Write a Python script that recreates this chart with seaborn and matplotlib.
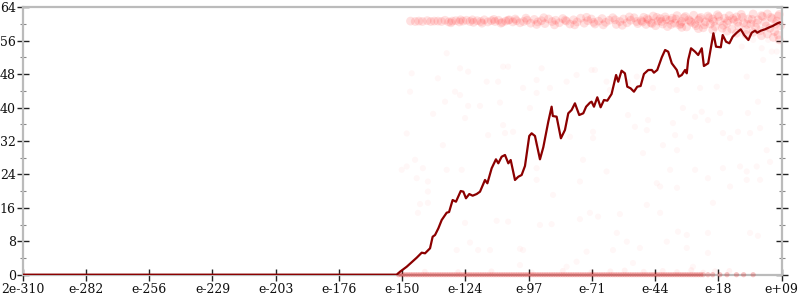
import matplotlib
matplotlib.use("Agg")
import matplotlib.pyplot as plt
import seaborn as sns
import pandas as pd
from matplotlib.ticker import MultipleLocator, FixedLocator

sns.set_style("white")
plt.rcParams['font.family'] = ['DejaVu Serif']

# ---------------- data (x = log10 exponent, y = value) ----------------
tick_labels = ["2e-310", "e-282", "e-256", "e-229", "e-203", "e-176", "e-150",
               "e-124", "e-97", "e-71", "e-44", "e-18", "e+09"]
x_min, x_max = -310, 9

line_x = [-310, -152.8, -151.4, -148.6, -145.8, -144.4, -142.3, -140.9, -138.8, -137.7,
          -136.7, -135.3, -133.9, -131.8, -130.8, -129.3, -127.9, -125.9, -124.8, -123.7,
          -122.3, -120.9, -119.2, -117.8, -115.7, -114.7, -112.9, -111.1, -110.1, -108.7,
          -107.3, -105.9, -104.9, -103.1, -101.7, -100.3, -98.9, -97.1, -96.1, -94.7,
          -92.6, -91.2, -89.1, -87.7, -87.2, -85.6, -83.8, -82.1, -80.7, -79.3,
          -77.9, -76.1, -74.4, -73.2, -71.6, -70.9, -69.9, -68.5, -67.1, -65.7,
          -64.3, -62.5, -60.6, -59.7, -58.3, -56.9, -55.9, -54.5, -53.1, -51.7,
          -50.3, -48.9, -47.1, -45.6, -44.7, -43.3, -41.4, -40.0, -38.7, -37.2,
          -35.1, -34.2, -33.0, -31.6, -30.9, -30.3, -29.1, -27.4, -26.1, -24.6,
          -23.7, -21.9, -19.7, -18.6, -16.6, -15.8, -14.4, -13.0, -11.6, -9.9,
          -8.2, -6.8, -5.0, -3.6, -2.2, -1.3, 0.2, 2.0, 3.8, 5.2, 7.2, 8.3]
line_y = [0, 0, 0.72, 1.91, 3.35, 4.07, 5.27, 5.12, 6.32, 9.09,
          9.50, 11.10, 13.09, 14.84, 15.0, 17.88, 17.47, 20.03, 19.87, 18.29,
          19.31, 18.91, 19.31, 19.87, 22.67, 21.88, 25.47, 27.62, 26.66, 28.24,
          28.65, 26.66, 27.45, 22.67, 23.45, 23.86, 26.02, 33.20, 33.84, 33.20,
          27.62, 30.49, 36.62, 40.21, 37.98, 37.82, 32.65, 34.63, 38.63, 39.42,
          41.02, 38.22, 38.63, 40.21, 41.17, 41.41, 40.21, 42.46, 40.07, 41.81,
          41.65, 43.25, 47.80, 46.19, 48.83, 48.20, 45.00, 44.61, 43.80, 45.00,
          45.16, 48.04, 48.99, 49.0, 48.35, 49.0, 52.03, 53.78, 53.37, 50.60,
          49.0, 47.39, 47.80, 49.0, 48.20, 51.39, 54.19, 53.37, 52.58, 54.19,
          49.95, 50.60, 57.78, 54.57, 54.43, 57.37, 55.77, 55.38, 56.96, 57.92,
          58.73, 57.37, 56.17, 57.92, 58.40, 57.92, 58.40, 58.73, 59.21, 59.52, 60.17, 60.4]

# faint scattered observations
sparse_x = [-148.6, -137.5, -132.5, -122.8, -117.8, -109.4, -124.1, -114.4, -133.4, -145.1,
            -150.7, -148.6, -141.8, -131.8, -125.5, -144.4, -139.7, -139.7, -108.1, -107.3,
            -103.9, -96.8, -94.0, -94.0, -94.0, -87.1, -80.0, -74.5, -70.3, -70.3,
            -64.6, -75.8, -55.6, -52.7, -47.7, -47.2, -49.3, -40.9, -36.7, -35.8,
            -35.0, -32.5, -29.5, -27.4, -24.6, -22.0, -16.9, -15.7, -12.7, -9.4,
            -5.2, -4.3, -1.0, -0.1, 2.7, 4.1, -1.5, -5.7, -15.7, -22.0,
            -27.4, -35.0, -43.5, -42.1, -12.7, -5.7, -0.1, -8.5, -37.9,
            -143.0, -139.7, -143.9, -124.1, -110.8, -106.0, -101.0, -99.7, -92.6, -87.7,
            -75.8, -71.6, -68.2, -59.0, -60.3, -56.1, -47.7, -42.1, -50.6, -34.6,
            -30.9, -22.0, -19.9, -4.3, -1.0, -39.3, -22.0, -30.9, -28.3, -77.2,
            -73.0, -122.0, -127.6, -118.6, -113.6, -101.0, -81.4, -53.5, -61.9,
            -146.5, -131.8, -126.2, -122.8, -135.5, -147.2, -128.3, -126.2, -115.0, -110.2,
            -108.1, -106.0, -99.7, -94.0, -94.0, -91.9, -88.4, -81.4, -77.2, -70.9,
            -69.5, -64.6, -63.2, -55.6, -51.9, -45.1, -35.1, -25.3, -18.3, -5.7,
            1.2, 4.8, 6.9, 0.6, -7.8, -3.0, 3.3, 6.9]
sparse_y = [33.8, 38.5, 41.4, 40.4, 40.4, 41.2, 37.5, 33.4, 31.0, 27.5,
            25.1, 25.9, 25.5, 25.1, 25.1, 23.1, 22.3, 19.9, 35.8, 33.9,
            34.2, 39.9, 31.5, 25.5, 22.7, 19.1, 33.0, 27.5, 34.2, 32.7,
            24.7, 22.3, 38.2, 35.4, 34.6, 37.0, 29.1, 31.0, 36.3, 33.4,
            29.8, 39.9, 33.0, 37.8, 39.0, 37.0, 38.7, 33.9, 32.7, 34.2,
            38.7, 33.9, 41.4, 35.1, 29.8, 27.0, 25.9, 24.7, 25.5, 23.1,
            25.1, 20.8, 21.9, 21.1, 21.1, 22.7, 22.7, 25.9, 25.1,
            16.9, 17.2, 14.8, 12.4, 12.9, 12.7, 6.2, 5.9, 11.9, 12.1,
            13.3, 14.8, 13.9, 14.5, 10.0, 7.9, 16.7, 14.8, 6.4, 10.3,
            9.5, 10.0, 17.2, 10.0, 9.3, 7.9, 5.2, 6.4, 1.9, 3.1,
            5.5, 7.7, 5.9, 5.9, 5.9, 2.3, 1.9, 2.8, 5.9,
            48.2, 53.0, 49.4, 48.6, 47.0, 43.8, 43.8, 43.0, 46.2, 46.2,
            49.8, 49.8, 44.7, 46.6, 43.5, 49.4, 44.7, 46.2, 47.8, 49.0,
            49.0, 46.2, 44.2, 46.2, 47.4, 44.7, 44.2, 44.7, 45.0, 47.4,
            51.4, 53.4, 53.4, 54.2, 54.6, 56.2, 56.2, 57.8]

# dense band of observations near the top
band_x = [-147, -145, -143.5, -142, -140, -138.5, -137, -135.5,
          -134, -132.5, -131, -129.5, -128, -126.5, -125, -123.5, -122, -120.5, -119, -117.5,
          -116, -114.5, -113, -111.5, -110, -108.5, -107, -105.5, -104, -102.5, -101,
          -130, -126, -121, -117, -112, -109, -106, -103,
          -99.5, -98, -96.5, -95, -93.5, -92, -90.5, -89, -87.5, -86, -84.5, -83, -81.5, -80,
          -78.5, -77, -75.5, -74, -72.5, -71, -69.5, -68, -66.5, -65, -63.5, -62, -60.5, -59,
          -57.5, -56, -54.5, -53, -51.5,
          -98.5, -94, -91, -86.5, -82, -78, -73, -70, -66, -61, -58, -55, -52,
          -50, -49, -48, -47, -46, -45, -44, -43, -42, -41, -40, -39, -38, -37, -36, -35,
          -34, -33, -32, -31, -30, -29, -28, -27, -26, -25, -24, -23, -22, -21, -20, -19,
          -18, -17, -16, -15, -14, -13, -12, -11, -10, -9, -8, -7, -6, -5, -4, -3, -2, -1,
          0, 1, 2, 3, 4, 5, 6, 7, 8, 8.5,
          -49.5, -47.5, -45.5, -43.5, -41.5, -39.5, -37.5, -35.5, -33.5, -31.5, -29.5, -27.5,
          -25.5, -23.5, -21.5, -19.5, -17.5, -15.5, -13.5, -11.5, -9.5, -7.5, -5.5, -3.5,
          -1.5, 0.5, 2.5, 4.5, 6.5, 7.5,
          -10, -6, -3, 0.5, 3, 5.5, 7.5, 8, -14, -20, -26, -33]
band_y = [60.7, 60.6, 60.7, 60.6, 60.8, 60.6, 60.7, 60.7,
          60.6, 60.9, 60.5, 60.7, 60.8, 60.5, 60.7, 60.9, 60.6, 60.4, 60.8, 60.6,
          61.0, 60.5, 60.8, 60.6, 60.9, 60.4, 60.7, 61.0, 60.5, 60.8, 60.3,
          60.3, 61.0, 61.0, 60.2, 61.1, 60.2, 60.9, 61.2,
          60.6, 60.9, 60.2, 61.1, 60.5, 60.8, 60.1, 61.2, 60.6, 60.9, 60.3, 61.3, 60.7, 60.0,
          61.0, 60.5, 61.4, 60.2, 60.8, 61.2, 60.0, 60.7, 61.3, 60.4, 60.9, 61.5, 59.9, 60.6,
          61.2, 60.3, 60.9, 61.5, 60.1,
          61.4, 59.9, 61.5, 59.8, 60.9, 59.8, 61.6, 60.4, 59.8, 61.0, 59.7, 61.7, 60.6,
          60.8, 61.6, 59.9, 61.0, 60.3, 61.9, 59.6, 60.7, 61.3, 60.0, 61.7, 59.4, 60.9, 61.4, 60.2, 62.0,
          59.8, 60.6, 61.5, 59.3, 61.0, 60.4, 62.1, 59.6, 60.9, 61.6, 59.1, 60.5, 61.9, 60.0, 61.2, 59.4,
          62.2, 60.7, 59.0, 61.4, 60.2, 62.0, 58.8, 60.9, 61.7, 59.5, 62.3, 60.3, 58.6, 61.2, 60.0, 62.4, 59.2, 61.0,
          58.4, 61.8, 60.4, 62.4, 59.0, 61.3, 58.2, 60.7, 62.3, 59.6,
          60.5, 61.3, 60.1, 61.6, 60.6, 61.1, 59.9, 61.2, 60.1, 61.8, 60.7, 60.1,
          61.3, 59.8, 61.5, 60.6, 61.8, 59.7, 60.8, 61.3, 60.4, 61.6, 59.9, 61.1,
          60.2, 62.0, 59.5, 61.6, 60.0, 61.9,
          57.8, 57.5, 58.0, 57.2, 57.6, 56.8, 57.4, 56.2, 58.3, 58.6, 58.9, 59.2]

# observations at zero along the bottom
zero_x = [-152, -151, -150, -149, -148, -147, -146, -145, -144, -143, -142, -141, -140,
          -139, -138, -137, -136, -135, -134, -133, -132, -131, -130, -129, -128, -127,
          -126, -125, -124, -123, -122, -121, -120, -119, -118, -117, -116, -115, -114,
          -113, -112, -111, -110, -109, -108, -107, -106, -105, -104, -103, -102, -101,
          -100, -99, -98, -97, -96, -95, -94, -93, -92, -91, -90, -89, -88, -87, -86,
          -85, -84, -83, -82, -81, -80, -79, -78, -77, -76, -75, -74, -73, -72, -71,
          -70, -69, -68, -67, -66, -65, -64, -63, -62, -61, -60, -59, -58, -57, -56,
          -55, -54, -53, -52, -51, -50, -49, -48, -47, -46, -45, -44, -43, -42, -41,
          -40, -39, -38, -37, -36, -35, -34, -33, -32, -31, -30, -29, -28, -27, -26,
          -25, -24, -22, -20, -17, -14, -10, -7, -3]
zero_y = [0.0] * len(zero_x)
# a few observations just above zero
low_x = [-141, -127, -113, -96, -83, -71, -63, -57, -49, -41, -35, -29, -24, -19, -13]
low_y = [0.7, 0.6, 0.8, 0.5, 0.9, 0.6, 0.8, 1.0, 0.7, 0.9, 0.6, 1.1, 0.5, 0.8, 0.9]

# ---------------- figure ----------------
fig = plt.figure(figsize=(8, 3), dpi=100)
ax = fig.add_axes([22.7 / 800, 1 - 274.7 / 300, 759 / 800, 267.4 / 300])

red = "#ff1a1a"
sns.scatterplot(x=sparse_x, y=sparse_y, ax=ax, color=red, alpha=0.03, s=20,
                edgecolor="none", legend=False, clip_on=False)
sns.scatterplot(x=band_x, y=band_y, ax=ax, color=red, alpha=0.13, s=40,
                edgecolor="none", legend=False, clip_on=False)
sns.scatterplot(x=low_x, y=low_y, ax=ax, color=red, alpha=0.05, s=18,
                edgecolor="none", legend=False, clip_on=False)
sns.scatterplot(x=zero_x, y=zero_y, ax=ax, color="#e01515", alpha=0.25, s=14,
                edgecolor="none", legend=False, clip_on=False, zorder=3)

df = pd.DataFrame({"x": line_x, "y": line_y})
sns.lineplot(data=df, x="x", y="y", ax=ax, color="#8b0000", linewidth=1.6,
             estimator=None, sort=False, zorder=4)

ax.set_xlim(x_min, x_max)
ax.set_ylim(0, 64)
ticks = [x_min + i * (x_max - x_min) / 12 for i in range(13)]
ax.xaxis.set_major_locator(FixedLocator(ticks))
ax.set_xticklabels(tick_labels)
ax.yaxis.set_major_locator(MultipleLocator(8))
ax.yaxis.set_minor_locator(MultipleLocator(4))
ax.set_xlabel("")
ax.set_ylabel("")

for side in ["left", "right", "top", "bottom"]:
    ax.spines[side].set_visible(True)
    ax.spines[side].set_color("#bbbbbb")
    ax.spines[side].set_linewidth(1.6)

ax.tick_params(axis="y", which="major", direction="inout", length=8, width=1.0,
               color="#222222", labelsize=9, pad=1, left=True, right=True,
               labelleft=True, labelright=False)
ax.tick_params(axis="y", which="minor", direction="inout", length=4, width=0.8,
               color="#888888", left=True, right=True)
ax.tick_params(axis="x", which="major", direction="inout", length=8, width=1.0,
               color="#222222", labelsize=9, pad=2, bottom=True, top=False)
for lab in ax.get_xticklabels() + ax.get_yticklabels():
    lab.set_color("#111111")

fig.savefig("out.png", dpi=100)
